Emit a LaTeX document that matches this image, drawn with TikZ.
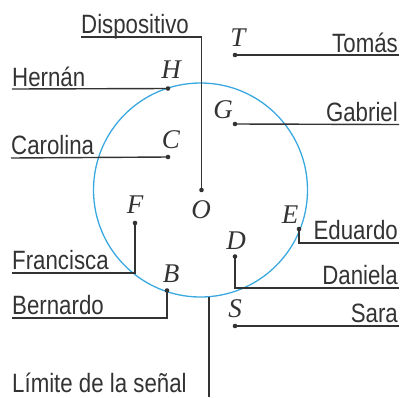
\documentclass[tikz,border=0pt]{standalone}
\usepackage{fontspec}
\setmainfont{Liberation Serif}
\newfontfamily\namefont[FakeStretch=0.84]{Liberation Sans}
\definecolor{ink}{HTML}{333333}
\definecolor{sky}{HTML}{3AA8E0}
\tikzset{
  lead/.style={draw=ink, line width=1.4pt},
  dotpt/.style={circle, fill=ink, inner sep=0pt, minimum size=4.6pt},
  lbl/.style={inner sep=0pt, text=ink, font=\fontsize{27}{30}\selectfont\itshape},
  nm/.style={inner sep=0pt, text=ink, font=\namefont\fontsize{26.5}{30}\selectfont},
  ring/.style={draw=sky, line width=1.3pt, circle, minimum size=214pt, inner sep=0pt}
}
\begin{document}
\begin{tikzpicture}[x=1pt, y=-1pt]
\useasboundingbox (0,0) rectangle (401,397);
\node[ring] (circ) at (200.5,190) {};
% points
\node[dotpt] (O) at (201.5,190) {};
\node[dotpt] (T) at (235,55) {};
\node[dotpt] (H) at (168,88.5) {};
\node[dotpt] (G) at (235,124) {};
\node[dotpt] (C) at (168,157) {};
\node[dotpt] (F) at (135,223) {};
\node[dotpt] (B) at (167,290.5) {};
\node[dotpt] (E) at (299,229) {};
\node[dotpt] (D) at (235,256.5) {};
\node[dotpt] (S) at (235,326) {};
% point labels
\node[lbl] (lO) at (201,210) {O};
\node[lbl] (lT) at (238,38) {T};
\node[lbl] (lH) at (171,70) {H};
\node[lbl] (lG) at (223,110) {G};
\node[lbl] (lC) at (171,140) {C};
\node[lbl] (lF) at (135,205) {F};
\node[lbl] (lE) at (290,215) {E};
\node[lbl] (lD) at (236,241) {D};
\node[lbl] (lB) at (171,274) {B};
\node[lbl] (lS) at (235,309) {S};
% names
\node[nm, anchor=base west] (nDisp) at (81,33) {Dispositivo};
\node[nm, anchor=base east] (nT) at (398,52) {Tomás};
\node[nm, anchor=base west] (nH) at (12,86) {Hernán};
\node[nm, anchor=base east] (nG) at (398,121.5) {Gabriel};
\node[nm, anchor=base west] (nC) at (11,154.5) {Carolina};
\node[nm, anchor=base west] (nF) at (12,269.5) {Francisca};
\node[nm, anchor=base west] (nB) at (12,314.5) {Bernardo};
\node[nm, anchor=base east] (nE) at (398,239.5) {Eduardo};
\node[nm, anchor=base east] (nD) at (398,284.5) {Daniela};
\node[nm, anchor=base east] (nS) at (398,322.5) {Sara};
\node[nm, anchor=base west] (nL) at (12,392) {Límite de la señal};
% line ends
\coordinate (eDisp) at (81,37);
\coordinate (eT) at (399,55);
\coordinate (eH) at (12,89);
\coordinate (eG) at (399,124.5);
\coordinate (eC) at (11,158);
\coordinate (eF) at (12,273);
\coordinate (eB) at (12,318);
\coordinate (eE) at (399,243);
\coordinate (eD) at (399,288);
\coordinate (eS) at (399,326);
\coordinate (limTop) at (209,296.7);
\coordinate (limBot) at (209,397);
% connectors
\draw[lead] (O.center) |- (eDisp);
\draw[lead] (T.center) -- (eT);
\draw[lead] (H.center) -- (eH);
\draw[lead] (G.center) -- (eG);
\draw[lead] (C.center) -- (eC);
\draw[lead] (F.center) |- (eF);
\draw[lead] (B.center) |- (eB);
\draw[lead] (E.center) |- (eE);
\draw[lead] (D.center) |- (eD);
\draw[lead] (S.center) -- (eS);
\draw[lead] (limTop) -- (limBot);
\end{tikzpicture}
\end{document}
